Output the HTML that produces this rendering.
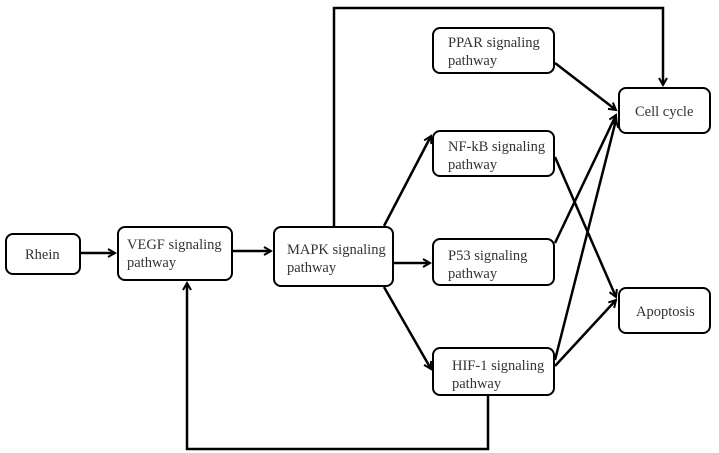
<!DOCTYPE html>
<html><head><style>
body{margin:0;width:719px;height:453px;background:#fff;position:relative;overflow:hidden;font-family:"Liberation Serif",serif;color:#333}
.b{position:absolute;border:2.5px solid #000;border-radius:8px;box-sizing:border-box;background:#fff;font-size:14.5px;line-height:18px}
svg{position:absolute;left:0;top:0}
</style></head><body>
<svg width="719" height="453">
<defs><marker id="a" markerWidth="10" markerHeight="10" refX="8" refY="5" orient="auto" markerUnits="userSpaceOnUse"><path d="M1,1 L8,5 L1,9" fill="none" stroke="#000" stroke-width="2"/></marker></defs>
<g stroke="#000" stroke-width="2.5" fill="none">
<line x1="81" y1="253" x2="115" y2="253" marker-end="url(#a)"/>
<line x1="233" y1="251" x2="271" y2="251" marker-end="url(#a)"/>
<line x1="394" y1="263" x2="430" y2="263" marker-end="url(#a)"/>
<line x1="384" y1="226" x2="431" y2="136" marker-end="url(#a)"/>
<line x1="384" y1="287" x2="431" y2="369" marker-end="url(#a)"/>
<polyline points="334,226 334,8 663,8 663,85" marker-end="url(#a)"/>
<polyline points="488,396 488,449 187,449 187,283" marker-end="url(#a)"/>
<line x1="555" y1="63" x2="616" y2="110" marker-end="url(#a)"/>
<line x1="555" y1="157" x2="616" y2="297" marker-end="url(#a)"/>
<line x1="555" y1="243" x2="616" y2="115" marker-end="url(#a)"/>
<line x1="555" y1="360" x2="616" y2="120" marker-end="url(#a)"/>
<line x1="555" y1="366" x2="616" y2="300" marker-end="url(#a)"/>
</g></svg>
<div class="b" style="left:5px;top:233px;width:76px;height:42px;padding:11px 0 0 18px">Rhein</div>
<div class="b" style="left:117px;top:226px;width:116px;height:55px;padding:8px 0 0 8px">VEGF signaling<br>pathway</div>
<div class="b" style="left:273px;top:226px;width:121px;height:61px;padding:13px 0 0 12px">MAPK signaling<br>pathway</div>
<div class="b" style="left:432px;top:27px;width:123px;height:47px;padding:5px 0 0 14px">PPAR signaling<br>pathway</div>
<div class="b" style="left:432px;top:130px;width:123px;height:47px;padding:6px 0 0 14px">NF-kB signaling<br>pathway</div>
<div class="b" style="left:432px;top:238px;width:123px;height:48px;padding:7px 0 0 14px">P53 signaling<br>pathway</div>
<div class="b" style="left:432px;top:347px;width:123px;height:49px;padding:8px 0 0 18px">HIF-1 signaling<br>pathway</div>
<div class="b" style="left:618px;top:87px;width:93px;height:47px;padding:14px 0 0 15px">Cell cycle</div>
<div class="b" style="left:618px;top:287px;width:93px;height:47px;padding:14px 0 0 16px">Apoptosis</div>
</body></html>
